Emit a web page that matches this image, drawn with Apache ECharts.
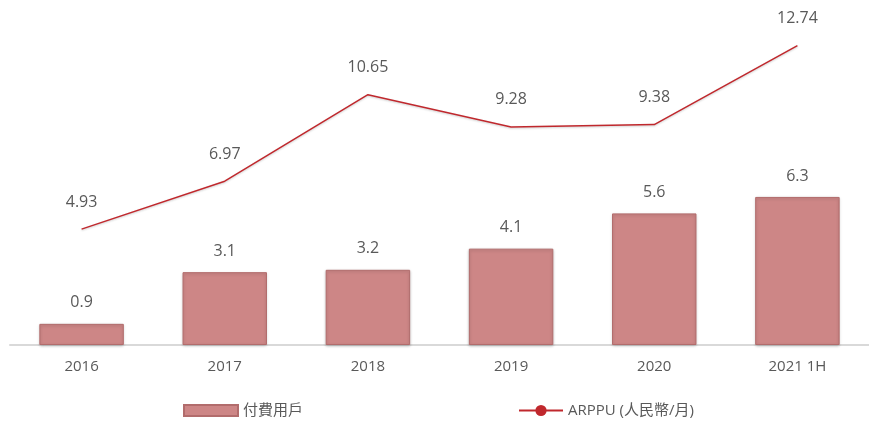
<!DOCTYPE html>
<html>
<head>
<meta charset="utf-8">
<script src="https://cdn.jsdelivr.net/npm/echarts@6/dist/echarts.min.js"></script>
<style>
  html, body { margin: 0; padding: 0; background: #fff; }
  #chart { width: 869px; height: 421px; }
</style>
</head>
<body>
<div id="chart"></div>
<script>
// 年份
const years = ['2016', '2017', '2018', '2019', '2020', '2021 1H']
// 付費用戶 (柱)
const payingUsers = [0.9, 3.1, 3.2, 4.1, 5.6, 6.3]
// ARPPU (線)
const arppu = [4.93, 6.97, 10.65, 9.28, 9.38, 12.74]

const font = '"Open Sans", "Noto Sans CJK TC", sans-serif'
const textColor = '#595959'
const lineColor = '#C0282D'

const chart = echarts.init(document.getElementById('chart'))

chart.setOption({
  animation: false,
  textStyle: { fontFamily: font },
  legend: [
    {
      data: [{ name: '付費用戶', icon: 'rect' }],
      left: 178,
      top: 398,
      itemWidth: 54,
      itemHeight: 11,
      textStyle: { fontSize: 15, color: textColor, fontFamily: font }
    },
    {
      data: [{
        name: 'ARPPU (人民幣/月)',
        itemStyle: { color: lineColor, borderWidth: 0 }
      }],
      left: 513,
      top: 398,
      itemWidth: 44,
      itemHeight: 14,
      textStyle: { fontSize: 15, color: textColor, fontFamily: font }
    }
  ],
  grid: {
    left: 10,
    right: -4,
    top: 16,
    bottom: 76
  },
  xAxis: {
    type: 'category',
    data: years,
    axisLine: { lineStyle: { color: '#D9D9D9', width: 2 } },
    axisTick: { show: false },
    axisLabel: { color: textColor, fontSize: 15, margin: 14 }
  },
  yAxis: {
    type: 'value',
    min: 0,
    max: 14,
    show: false,
    splitLine: { show: false }
  },
  series: [
    {
      name: '付費用戶',
      type: 'bar',
      data: payingUsers,
      barWidth: '59%',
      itemStyle: {
        color: '#CD8686',
        borderColor: '#B26C6C',
        borderWidth: 1,
        shadowColor: 'rgba(0,0,0,0.2)',
        shadowBlur: 3,
        shadowOffsetY: 1
      },
      label: {
        show: true,
        position: 'top',
        distance: 13,
        color: textColor,
        fontSize: 16
      }
    },
    {
      name: 'ARPPU (人民幣/月)',
      type: 'line',
      data: arppu,
      symbol: 'circle',
      symbolSize: 10,
      showSymbol: true,
      itemStyle: { color: 'rgba(0,0,0,0)' },
      lineStyle: {
        color: lineColor,
        width: 1.5,
        shadowColor: 'rgba(0,0,0,0.2)',
        shadowBlur: 2,
        shadowOffsetY: 1
      },
      label: {
        show: true,
        position: 'top',
        distance: 14,
        color: textColor,
        fontSize: 16
      }
    }
  ]
})
</script>
</body>
</html>
